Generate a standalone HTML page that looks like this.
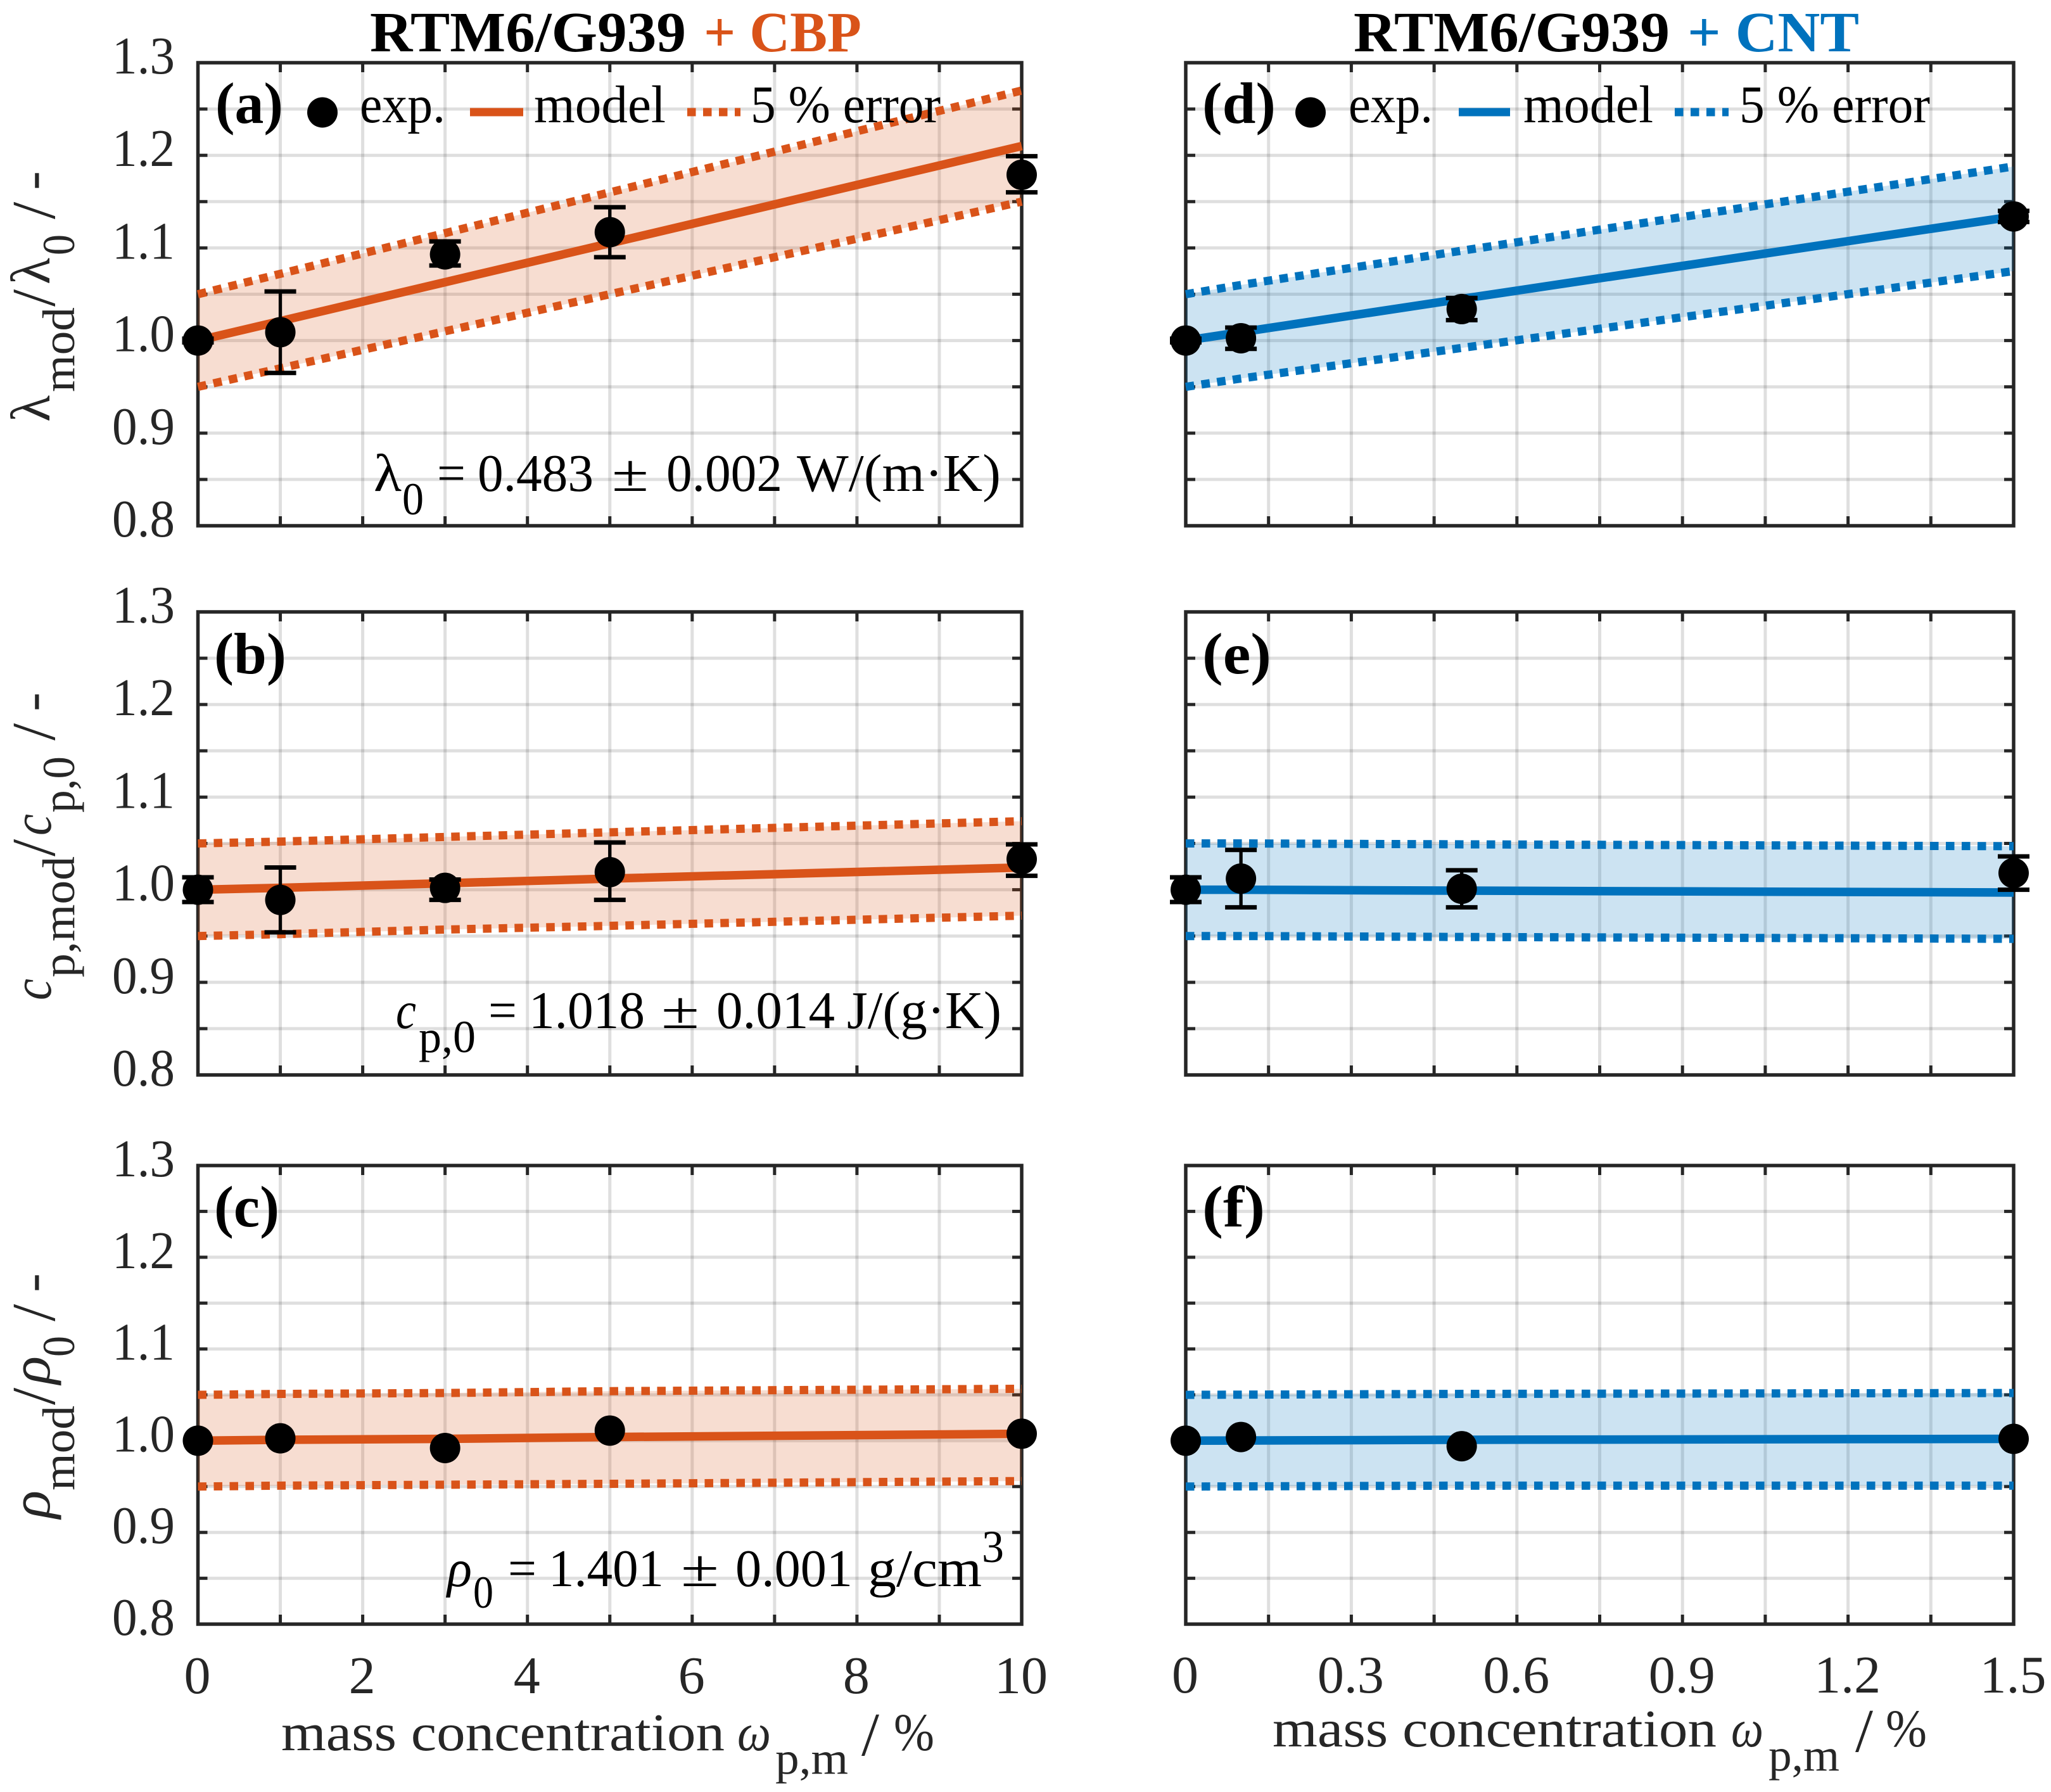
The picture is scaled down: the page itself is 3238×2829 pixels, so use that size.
<!DOCTYPE html>
<html lang="en">
<head>
<meta charset="utf-8">
<title>RTM6/G939 property ratios vs mass concentration</title>
<style>
html,body{margin:0;padding:0;background:#fff;}
svg{display:block;}
text{font-family:"Liberation Serif","DejaVu Serif",serif;}
.t{font-size:84px;fill:#000;}
.a{font-size:84px;fill:#262626;}
.m{font-size:88px;fill:#262626;}
.sl{font-size:98px;fill:#262626;}
.s{font-size:72px;fill:#262626;}
.s2{font-size:72px;fill:#000;}
.pl{font-size:92px;fill:#000;font-weight:bold;}
.i{font-style:italic;}
.b{font-weight:bold;}
</style>
</head>
<body>
<svg id="chart" xmlns="http://www.w3.org/2000/svg" width="3238" height="2829" viewBox="0 0 3238 2829">
<rect width="3238" height="2829" fill="#fff"/>
<g id="plots"></g>

<!-- Column titles -->
<text class="b" font-size="90" y="81"><tspan x="584" textLength="499" lengthAdjust="spacingAndGlyphs" fill="#000">RTM6/G939</tspan><tspan x="1111" textLength="249" lengthAdjust="spacingAndGlyphs" fill="#D95319">+ CBP</tspan></text>
<text class="b" font-size="90" y="81"><tspan x="2137" textLength="499" lengthAdjust="spacingAndGlyphs" fill="#000">RTM6/G939</tspan><tspan x="2664" textLength="271" lengthAdjust="spacingAndGlyphs" fill="#0072BD">+ CNT</tspan></text>

<!-- Legend, CBP -->
<g>
<circle cx="509" cy="177.5" r="24" fill="#000"/>
<text class="t" x="568" y="193" textLength="135" lengthAdjust="spacingAndGlyphs">exp.</text>
<line x1="742" x2="826" y1="177" y2="177" stroke="#D95319" stroke-width="13"/>
<text class="t" x="843" y="193" textLength="208" lengthAdjust="spacingAndGlyphs">model</text>
<line x1="1085" x2="1169" y1="177" y2="177" stroke="#D95319" stroke-width="13" stroke-dasharray="13.5 11.5"/>
<text class="t" x="1185" y="193" textLength="300" lengthAdjust="spacingAndGlyphs">5 % error</text>
</g>
<!-- Legend, CNT -->
<g>
<circle cx="2069" cy="177.5" r="24" fill="#000"/>
<text class="t" x="2129" y="193" textLength="133" lengthAdjust="spacingAndGlyphs">exp.</text>
<line x1="2303" x2="2384" y1="177" y2="177" stroke="#0072BD" stroke-width="13"/>
<text class="t" x="2405" y="193" textLength="205" lengthAdjust="spacingAndGlyphs">model</text>
<line x1="2644" x2="2729" y1="177" y2="177" stroke="#0072BD" stroke-width="13" stroke-dasharray="13.5 11.5"/>
<text class="t" x="2746" y="193" textLength="301" lengthAdjust="spacingAndGlyphs">5 % error</text>
</g>

<!-- Panel letters -->
<text class="pl" x="340" y="194" textLength="107" lengthAdjust="spacingAndGlyphs">(a)</text>
<text class="pl" x="338" y="1063" textLength="114" lengthAdjust="spacingAndGlyphs">(b)</text>
<text class="pl" x="338" y="1936" textLength="103" lengthAdjust="spacingAndGlyphs">(c)</text>
<text class="pl" x="1898" y="194" textLength="116" lengthAdjust="spacingAndGlyphs">(d)</text>
<text class="pl" x="1898" y="1063" textLength="109" lengthAdjust="spacingAndGlyphs">(e)</text>
<text class="pl" x="1898" y="1936" textLength="99" lengthAdjust="spacingAndGlyphs">(f)</text>

<!-- Reference value annotations -->
<g>
<text class="t" x="590" y="775" textLength="44" lengthAdjust="spacingAndGlyphs">λ</text>
<text class="s2" x="635" y="812" textLength="34" lengthAdjust="spacingAndGlyphs">0</text>
<text class="t" x="690" y="775" textLength="45" lengthAdjust="spacingAndGlyphs">=</text>
<text class="t" x="754" y="775" textLength="183" lengthAdjust="spacingAndGlyphs">0.483</text>
<text class="t" x="966" y="775" textLength="58" lengthAdjust="spacingAndGlyphs">±</text>
<text class="t" x="1052" y="775" textLength="183" lengthAdjust="spacingAndGlyphs">0.002</text>
<text class="t" x="1258" y="775" textLength="322" lengthAdjust="spacingAndGlyphs">W/(m·K)</text>
</g>
<g>
<text class="t i" x="625" y="1623" textLength="32" lengthAdjust="spacingAndGlyphs">c</text>
<text class="s2" x="661" y="1661" textLength="90" lengthAdjust="spacingAndGlyphs">p,0</text>
<text class="t" x="771" y="1623" textLength="45" lengthAdjust="spacingAndGlyphs">=</text>
<text class="t" x="835" y="1623" textLength="183" lengthAdjust="spacingAndGlyphs">1.018</text>
<text class="t" x="1044" y="1623" textLength="60" lengthAdjust="spacingAndGlyphs">±</text>
<text class="t" x="1131" y="1623" textLength="187" lengthAdjust="spacingAndGlyphs">0.014</text>
<text class="t" x="1337" y="1623" textLength="244" lengthAdjust="spacingAndGlyphs">J/(g·K)</text>
</g>
<g>
<text class="t i" x="706" y="2504" textLength="39" lengthAdjust="spacingAndGlyphs">ρ</text>
<text class="s2" x="747" y="2538" textLength="32" lengthAdjust="spacingAndGlyphs">0</text>
<text class="t" x="802" y="2504" textLength="45" lengthAdjust="spacingAndGlyphs">=</text>
<text class="t" x="866" y="2504" textLength="182" lengthAdjust="spacingAndGlyphs">1.401</text>
<text class="t" x="1075" y="2504" textLength="60" lengthAdjust="spacingAndGlyphs">±</text>
<text class="t" x="1161" y="2504" textLength="185" lengthAdjust="spacingAndGlyphs">0.001</text>
<text class="t" x="1370" y="2504" textLength="180" lengthAdjust="spacingAndGlyphs">g/cm</text>
<text class="s2" x="1550" y="2466" textLength="35" lengthAdjust="spacingAndGlyphs">3</text>
</g>

<!-- Y axis titles -->
<g>
<text class="m" transform="translate(78,666) rotate(-90)" textLength="42" lengthAdjust="spacingAndGlyphs">λ</text>
<text class="s" transform="translate(117,619) rotate(-90)" textLength="134" lengthAdjust="spacingAndGlyphs">mod</text>
<text class="sl" transform="translate(86,484) rotate(-90)">/</text>
<text class="m" transform="translate(78,449) rotate(-90)" textLength="42" lengthAdjust="spacingAndGlyphs">λ</text>
<text class="s" transform="translate(117,403) rotate(-90)" textLength="33" lengthAdjust="spacingAndGlyphs">0</text>
<text class="sl" transform="translate(86,346) rotate(-90)">/</text>
<text class="a" transform="translate(78,300) rotate(-90)" textLength="30" lengthAdjust="spacingAndGlyphs">-</text>
</g>
<g>
<text class="m i" transform="translate(80,1579) rotate(-90)" textLength="34" lengthAdjust="spacingAndGlyphs">c</text>
<text class="s" transform="translate(117,1543) rotate(-90)" textLength="191" lengthAdjust="spacingAndGlyphs">p,mod</text>
<text class="sl" transform="translate(86,1352) rotate(-90)">/</text>
<text class="m i" transform="translate(80,1319) rotate(-90)" textLength="34" lengthAdjust="spacingAndGlyphs">c</text>
<text class="s" transform="translate(117,1283) rotate(-90)" textLength="89" lengthAdjust="spacingAndGlyphs">p,0</text>
<text class="sl" transform="translate(86,1169) rotate(-90)">/</text>
<text class="a" transform="translate(78,1123) rotate(-90)" textLength="30" lengthAdjust="spacingAndGlyphs">-</text>
</g>
<g>
<text class="m i" transform="translate(78,2397) rotate(-90)" textLength="44" lengthAdjust="spacingAndGlyphs">ρ</text>
<text class="s" transform="translate(117,2353) rotate(-90)" textLength="134" lengthAdjust="spacingAndGlyphs">mod</text>
<text class="sl" transform="translate(86,2218) rotate(-90)">/</text>
<text class="m i" transform="translate(78,2185) rotate(-90)" textLength="44" lengthAdjust="spacingAndGlyphs">ρ</text>
<text class="s" transform="translate(117,2142) rotate(-90)" textLength="33" lengthAdjust="spacingAndGlyphs">0</text>
<text class="sl" transform="translate(86,2086) rotate(-90)">/</text>
<text class="a" transform="translate(78,2040) rotate(-90)" textLength="30" lengthAdjust="spacingAndGlyphs">-</text>
</g>

<!-- X axis titles -->
<g>
<text class="a" x="444" y="2763" textLength="700" lengthAdjust="spacingAndGlyphs">mass concentration</text>
<text class="a i" x="1164" y="2763" textLength="53" lengthAdjust="spacingAndGlyphs">ω</text>
<text class="s" x="1224" y="2800" textLength="115" lengthAdjust="spacingAndGlyphs">p,m</text>
<text class="sl" x="1360" y="2771" textLength="28" lengthAdjust="spacingAndGlyphs">/</text>
<text class="a" x="1411" y="2763" textLength="64" lengthAdjust="spacingAndGlyphs">%</text>
</g>
<g>
<text class="a" x="2009" y="2757" textLength="701" lengthAdjust="spacingAndGlyphs">mass concentration</text>
<text class="a i" x="2733" y="2757" textLength="51" lengthAdjust="spacingAndGlyphs">ω</text>
<text class="s" x="2792" y="2795" textLength="112" lengthAdjust="spacingAndGlyphs">p,m</text>
<text class="sl" x="2929" y="2765" textLength="28" lengthAdjust="spacingAndGlyphs">/</text>
<text class="a" x="2977" y="2757" textLength="65" lengthAdjust="spacingAndGlyphs">%</text>
</g>
</svg>

<script>
// ---- Shared axis values ----
const yTicks = [0.8,0.85,0.9,0.95,1.0,1.05,1.1,1.15,1.2,1.25,1.3];
const yTickLabelValues = [0.8,0.9,1.0,1.1,1.2,1.3];
const yTickLabels = ['0.8','0.9','1.0','1.1','1.2','1.3'];
const xTicksCbp = [0,1,2,3,4,5,6,7,8,9,10];
const xTickLabelValuesCbp = [0,2,4,6,8,10];
const xTickLabelsCbp = ['0','2','4','6','8','10'];
const xTicksCnt = [0,0.15,0.3,0.45,0.6,0.75,0.9,1.05,1.2,1.35,1.5];
const xTickLabelValuesCnt = [0,0.3,0.6,0.9,1.2,1.5];
const xTickLabelsCnt = ['0','0.3','0.6','0.9','1.2','1.5'];

// ---- Concentrations ----
const xCbp = [0,1,3,5,10];
const xCnt = [0,0.1,0.5,1.5];

// ---- Panel (a) lambda, CBP ----
const aExp = [1.0,1.009,1.093,1.117,1.179];
const aErrHigh = [1.002,1.053,1.107,1.144,1.199];
const aErrLow = [0.998,0.965,1.081,1.090,1.160];
const aModel = [1.0,1.021,1.063,1.105,1.21];
const aUpper = [1.05,1.072,1.116,1.16,1.27];
const aLower = [0.95,0.97,1.01,1.05,1.15];

// ---- Panel (b) cp, CBP ----
const bExp = [1.0,0.989,1.002,1.019,1.033];
const bErrHigh = [1.0134,1.024,1.011,1.051,1.049];
const bErrLow = [0.9867,0.954,0.989,0.989,1.015];
const bModel = [1.0,1.002,1.007,1.012,1.024];
const bUpper = [1.05,1.052,1.057,1.062,1.074];
const bLower = [0.95,0.952,0.957,0.961,0.972];

// ---- Panel (c) rho, CBP ----
const cExp = [1.0,1.0026,0.992,1.011,1.0076];
const cErrHigh = [1.0,1.0026,0.992,1.011,1.0076];
const cErrLow = [1.0,1.0026,0.992,1.011,1.0076];
const cModel = [1.0,1.001,1.002,1.004,1.0075];
const cUpper = [1.05,1.051,1.052,1.054,1.0566];
const cLower = [0.95,0.951,0.952,0.953,0.956];

// ---- Panel (d) lambda, CNT ----
const dExp = [1.0,1.0025,1.034,1.134];
const dErrHigh = [1.002,1.014,1.046,1.14];
const dErrLow = [0.998,0.991,1.022,1.128];
const dModel = [1.0,1.009,1.045,1.134];
const dUpper = [1.05,1.06,1.097,1.188];
const dLower = [0.95,0.959,0.992,1.075];

// ---- Panel (e) cp, CNT ----
const eExp = [1.0,1.012,1.001,1.018];
const eErrHigh = [1.0134,1.043,1.021,1.036];
const eErrLow = [0.9867,0.981,0.981,1.0];
const eModel = [1.0,1.0,0.999,0.997];
const eUpper = [1.05,1.05,1.049,1.047];
const eLower = [0.95,0.95,0.949,0.947];

// ---- Panel (f) rho, CNT ----
const fExp = [1.0,1.004,0.994,1.002];
const fErrHigh = [1.0,1.004,0.994,1.002];
const fErrLow = [1.0,1.004,0.994,1.002];
const fModel = [1.0,1.0002,1.001,1.002];
const fUpper = [1.05,1.0502,1.051,1.052];
const fLower = [0.95,0.9502,0.951,0.951];

const ORANGE = '#D95319';
const BLUE = '#0072BD';
const INK = '#262626';
const SVGNS = 'http://www.w3.org/2000/svg';
const X_LEFT = {left:312.5, right:1613, max:10};
const X_RIGHT = {left:1872, right:3179, max:1.5};
const Y_MIN = 0.8;
const Y_MAX = 1.3;

const panels = [
  {id:'a', h:X_LEFT, top:99, bottom:830, color:ORANGE, x:xCbp, exp:aExp, hi:aErrHigh, lo:aErrLow, model:aModel, upper:aUpper, lower:aLower, xt:xTicksCbp, yLabels:true, xLabelVals:null, xLabels:null},
  {id:'b', h:X_LEFT, top:966, bottom:1697, color:ORANGE, x:xCbp, exp:bExp, hi:bErrHigh, lo:bErrLow, model:bModel, upper:bUpper, lower:bLower, xt:xTicksCbp, yLabels:true, xLabelVals:null, xLabels:null},
  {id:'c', h:X_LEFT, top:1840, bottom:2564, color:ORANGE, x:xCbp, exp:cExp, hi:cErrHigh, lo:cErrLow, model:cModel, upper:cUpper, lower:cLower, xt:xTicksCbp, yLabels:true, xLabelVals:xTickLabelValuesCbp, xLabels:xTickLabelsCbp, xBase:2673},
  {id:'d', h:X_RIGHT, top:99, bottom:830, color:BLUE, x:xCnt, exp:dExp, hi:dErrHigh, lo:dErrLow, model:dModel, upper:dUpper, lower:dLower, xt:xTicksCnt, yLabels:false, xLabelVals:null, xLabels:null},
  {id:'e', h:X_RIGHT, top:966, bottom:1697, color:BLUE, x:xCnt, exp:eExp, hi:eErrHigh, lo:eErrLow, model:eModel, upper:eUpper, lower:eLower, xt:xTicksCnt, yLabels:false, xLabelVals:null, xLabels:null},
  {id:'f', h:X_RIGHT, top:1840, bottom:2564, color:BLUE, x:xCnt, exp:fExp, hi:fErrHigh, lo:fErrLow, model:fModel, upper:fUpper, lower:fLower, xt:xTicksCnt, yLabels:false, xLabelVals:xTickLabelValuesCnt, xLabels:xTickLabelsCnt, xBase:2672}
];

function make(tag, parent, attrs) {
  const el = document.createElementNS(SVGNS, tag);
  Object.keys(attrs).forEach(function (k) { el.setAttribute(k, attrs[k]); });
  parent.appendChild(el);
  return el;
}

const root = document.getElementById('plots');

panels.forEach(function (p) {
  const sx = function (v) { return p.h.left + (v / p.h.max) * (p.h.right - p.h.left); };
  const sy = function (v) { return p.bottom - ((v - Y_MIN) / (Y_MAX - Y_MIN)) * (p.bottom - p.top); };
  const toPoints = function (xs, ys) { return xs.map(function (x, i) { return sx(x) + ',' + sy(ys[i]); }).join(' '); };

  const g = make('g', root, {});
  
  

  // grid
  yTicks.forEach(function (t) {
    if (t === Y_MIN || t === Y_MAX) return;
    const el = make('line', g, {x1:p.h.left, x2:p.h.right, y1:sy(t), y2:sy(t), stroke:INK, 'stroke-opacity':0.15, 'stroke-width':5});
    
    
  });
  p.xt.forEach(function (t, i) {
    if (i === 0 || i === p.xt.length - 1) return;
    const el = make('line', g, {x1:sx(t), x2:sx(t), y1:p.top, y2:p.bottom, stroke:INK, 'stroke-opacity':0.15, 'stroke-width':5});
    
    
  });

  // ticks
  yTicks.forEach(function (t) {
    [[p.h.left, p.h.left + 15], [p.h.right - 15, p.h.right]].forEach(function (seg) {
      const el = make('line', g, {x1:seg[0], x2:seg[1], y1:sy(t), y2:sy(t), stroke:INK, 'stroke-width':5});
      
      
    });
  });
  p.xt.forEach(function (t) {
    [[p.top, p.top + 15], [p.bottom - 15, p.bottom]].forEach(function (seg) {
      const el = make('line', g, {x1:sx(t), x2:sx(t), y1:seg[0], y2:seg[1], stroke:INK, 'stroke-width':5});
      
      
    });
  });

  // frame
  const frame = make('rect', g, {x:p.h.left, y:p.top, width:p.h.right - p.h.left, height:p.bottom - p.top, fill:'none', stroke:INK, 'stroke-width':5.5});
  
  

  // y tick labels
  if (p.yLabels) {
    yTickLabels.forEach(function (label, i) {
      const el = make('text', g, {x:177, y:sy(yTickLabelValues[i]) + 17, fill:INK, 'font-size':84, textLength:99, lengthAdjust:'spacingAndGlyphs'});
      el.textContent = label;
      
      
    });
  }

  // x tick labels
  if (p.xLabels) {
    p.xLabels.forEach(function (label, i) {
      const el = make('text', g, {x:sx(p.xLabelVals[i]) - 1, y:p.xBase, fill:INK, 'font-size':84, 'text-anchor':'middle'});
      el.textContent = label;
      
      
    });
  }

  // 5 % error band
  const reversedX = p.x.slice().reverse();
  const reversedLower = p.lower.slice().reverse();
  const band = make('polygon', g, {points:toPoints(p.x, p.upper) + ' ' + toPoints(reversedX, reversedLower), fill:p.color, 'fill-opacity':0.2});
  
  

  // dotted bounds
  const upperLine = make('polyline', g, {points:toPoints(p.x, p.upper), fill:'none', stroke:p.color, 'stroke-width':13, 'stroke-dasharray':'13.5 11.5'});
  
  
  const lowerLine = make('polyline', g, {points:toPoints(p.x, p.lower), fill:'none', stroke:p.color, 'stroke-width':13, 'stroke-dasharray':'13.5 11.5'});
  
  

  // model line
  const modelLine = make('polyline', g, {points:toPoints(p.x, p.model), fill:'none', stroke:p.color, 'stroke-width':13.5});
  
  

  // experimental points with error bars
  p.x.forEach(function (xv, i) {
    const cx = sx(xv);
    const pt = make('g', g, {});
    
    
    if (p.hi[i] !== p.lo[i]) {
      make('line', pt, {x1:cx, x2:cx, y1:sy(p.hi[i]), y2:sy(p.lo[i]), stroke:'#000', 'stroke-width':5.3});
      make('line', pt, {x1:cx - 25, x2:cx + 25, y1:sy(p.hi[i]), y2:sy(p.hi[i]), stroke:'#000', 'stroke-width':7});
      make('line', pt, {x1:cx - 25, x2:cx + 25, y1:sy(p.lo[i]), y2:sy(p.lo[i]), stroke:'#000', 'stroke-width':7});
    }
    make('circle', pt, {cx:cx, cy:sy(p.exp[i]), r:24, fill:'#000'});
  });
});
</script>
</body>
</html>
